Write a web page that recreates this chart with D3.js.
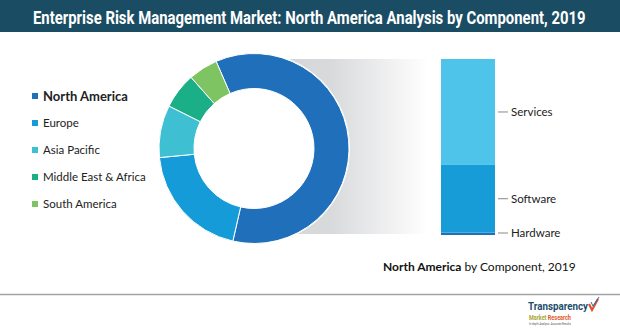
<!DOCTYPE html>
<html>
<head>
<meta charset="utf-8">
<script src="https://cdn.jsdelivr.net/npm/d3@7/dist/d3.min.js"></script>
<style>
  html, body { margin: 0; padding: 0; background: #fff; }
  svg { display: block; }
</style>
</head>
<body>
<svg id="chart" width="620" height="331"></svg>
<script>
// Regional share of the market (%), clockwise from the top
const regions = ["North America", "Europe", "Asia Pacific", "Middle East & Africa", "South America"];
const regionShares = [60.1, 19.9, 8.9, 6.1, 5.0];
const regionColors = ["#1f6fba", "#159bd7", "#3fc0d2", "#1aaf86", "#7ec462"];

// North America split by component (%), bottom to top
const components = ["Hardware", "Software", "Services"];
const componentShares = [1.4, 38.4, 60.2];
const componentColors = ["#1f6fba", "#179cd8", "#4fc4ea"];

const titleText = "Enterprise Risk Management Market: North America Analysis by Component, 2019";

const svg = d3.select("#chart");
const W = 620, H = 331;

// Squeeze a text horizontally so it spans `width`, giving a condensed face
function condense(sel, x0, y0, width) {
  const w = sel.node().getComputedTextLength();
  sel.attr("x", 0).attr("y", 0)
     .attr("transform", `translate(${x0},${y0}) scale(${width / w},1)`);
}

// ---- header band ----
svg.append("rect").attr("x", 0).attr("y", 0).attr("width", W).attr("height", 32).attr("fill", "#1a4c64");
const title = svg.append("text")
  .attr("fill", "#fff")
  .attr("font-family", "Roboto, 'Liberation Sans', sans-serif")
  .attr("font-weight", "bold")
  .attr("font-size", 18.5)
  .text(titleText);
condense(title, 33, 23.5, 553);

// ---- gray fade panel linking donut to bar ----
const defs = svg.append("defs");
const grad = defs.append("linearGradient").attr("id", "fade").attr("x1", "0%").attr("x2", "100%");
grad.append("stop").attr("offset", "0%").attr("stop-color", "#d2d3d5");
grad.append("stop").attr("offset", "45%").attr("stop-color", "#d9dadc");
grad.append("stop").attr("offset", "100%").attr("stop-color", "#ffffff");

const cx = 254, cy = 148.5, rOuter = 95, rInner = 60;
svg.append("rect")
  .attr("x", cx).attr("y", 59).attr("width", 428 - cx).attr("height", 175)
  .attr("fill", "url(#fade)");

// ---- donut ----
const startA = -23.5 * Math.PI / 180;
const pie = d3.pie().sort(null).value(d => d.v).startAngle(startA).endAngle(startA + 2 * Math.PI);
const arc = d3.arc().innerRadius(rInner).outerRadius(rOuter);
const regionData = regions.map((r, i) => ({ name: r, v: regionShares[i], c: regionColors[i] }));

svg.append("circle").attr("cx", cx).attr("cy", cy).attr("r", rOuter + 1).attr("fill", "#fff");
svg.append("g").attr("transform", `translate(${cx},${cy})`)
  .selectAll("path").data(pie(regionData)).join("path")
  .attr("d", arc)
  .attr("fill", d => d.data.c)
  .attr("stroke", "#fff").attr("stroke-width", 1);

// ---- legend ----
const legY = d3.scalePoint().domain(regions).range([96, 204]);
const leg = svg.append("g").selectAll("g").data(regionData).join("g")
  .attr("transform", d => `translate(32,${legY(d.name)})`);
leg.append("rect").attr("x", 0).attr("y", -3).attr("width", 6).attr("height", 6).attr("fill", d => d.c);
leg.append("text")
  .attr("x", 11).attr("y", 0).attr("dy", "0.35em")
  .attr("font-family", "Lato, 'Open Sans', sans-serif")
  .attr("font-size", (d, i) => i === 0 ? 13 : 11.5)
  .attr("font-weight", (d, i) => i === 0 ? "bold" : "normal")
  .attr("fill", "#222")
  .text(d => d.name);

// ---- stacked component bar ----
const y = d3.scaleLinear().domain([0, 100]).range([235, 59]);
const barX = 441, barW = 54;
let acc = 0;
const stacks = components.map((name, i) => {
  const s = { name, y0: acc, y1: acc + componentShares[i], c: componentColors[i] };
  acc += componentShares[i];
  return s;
});
svg.append("g").selectAll("rect").data(stacks).join("rect")
  .attr("x", barX).attr("width", barW)
  .attr("y", d => y(d.y1))
  .attr("height", d => y(d.y0) - y(d.y1))
  .attr("fill", d => d.c);

const lab = svg.append("g").selectAll("g").data(stacks).join("g")
  .attr("transform", d => `translate(0,${Math.min(y((d.y0 + d.y1) / 2), 233)})`);
lab.append("line").attr("x1", 498).attr("x2", 508).attr("y1", 0).attr("y2", 0)
  .attr("stroke", "#888").attr("stroke-width", 1);
lab.append("text").attr("x", 511).attr("y", 0).attr("dy", "0.35em")
  .attr("font-family", "Lato, 'Open Sans', sans-serif")
  .attr("font-size", 11.5).attr("fill", "#222")
  .text(d => d.name);

// ---- caption ----
const cap = svg.append("text").attr("x", 383).attr("y", 271)
  .attr("font-family", "Lato, 'Open Sans', sans-serif")
  .attr("font-size", 12).attr("fill", "#111");
cap.append("tspan").attr("font-weight", "bold").text("North America");
cap.append("tspan").text(" by Component, 2019");

// ---- footer rule ----
svg.append("line").attr("x1", 0).attr("x2", W).attr("y1", 294.5).attr("y2", 294.5)
  .attr("stroke", "#a3a3a3").attr("stroke-width", 1.5);

// ---- publisher mark ----
const logoFont = "Roboto, 'Liberation Sans', sans-serif";
const t1 = svg.append("text")
  .attr("font-family", logoFont)
  .attr("font-weight", "bold").attr("font-size", 10.5).attr("fill", "#1d4f6b")
  .text("Transparency");
condense(t1, 528, 309.5, 60);
const mr = svg.append("text")
  .attr("font-family", logoFont)
  .attr("font-weight", "bold").attr("font-size", 7);
mr.append("tspan").attr("fill", "#a7a837").text("Market ");
mr.append("tspan").attr("fill", "#e05a2b").text("Research");
condense(mr, 529, 319.5, 42);
const tag = svg.append("text")
  .attr("font-family", logoFont)
  .attr("font-size", 3.5).attr("fill", "#555")
  .text("In-depth Analysis. Accurate Results");
condense(tag, 529, 324.5, 42);
svg.append("path").attr("d", "M589,304 L592,310 L598,299")
  .attr("fill", "none").attr("stroke", "#e0522a").attr("stroke-width", 2.2);
svg.append("path").attr("d", "M591,302 L593,306 L599,297")
  .attr("fill", "none").attr("stroke", "#1d6fb0").attr("stroke-width", 1);
</script>
</body>
</html>
